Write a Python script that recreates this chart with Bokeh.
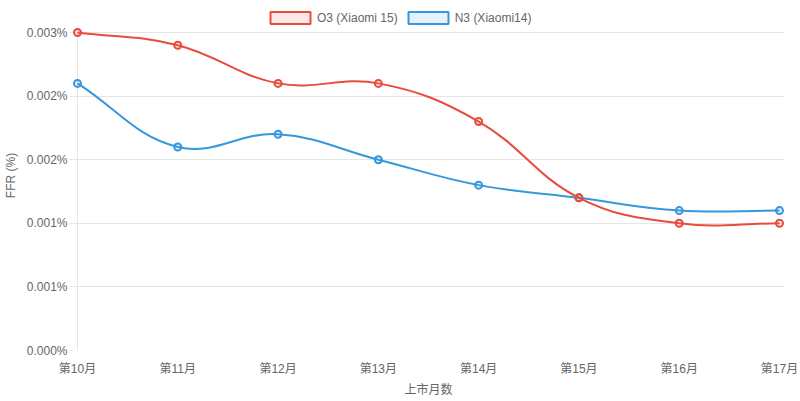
import math
from bokeh.plotting import figure
from bokeh.models import (FixedTicker, CustomJSTickFormatter, Legend, LegendItem,
                          ColumnDataSource, Range1d)
from bokeh.embed import file_html
from bokeh.resources import INLINE

# ---------------- data ----------------
MONTHS = ["第10月", "第11月", "第12月", "第13月", "第14月", "第15月", "第16月", "第17月"]
O3_VALUES = [0.0025, 0.0024, 0.0021, 0.0021, 0.0018, 0.0012, 0.0010, 0.0010]
N3_VALUES = [0.0021, 0.0016, 0.0017, 0.0015, 0.0013, 0.0012, 0.0011, 0.0011]
SERIES_NAMES = ["O3 (Xiaomi 15)", "N3 (Xiaomi14)"]
Y_TICKS = [0.0, 0.0005, 0.001, 0.0015, 0.002, 0.0025]
Y_TICK_LABELS = ["0.000%", "0.001%", "0.001%", "0.002%", "0.002%", "0.003%"]
Y_TITLE = "FFR (%)"
X_TITLE = "上市月数"

# ---------------- style ----------------
RED = "#e74c3c"
BLUE = "#3498db"
GRID = "#e5e5e5"
TEXT = "#666666"
FONT = "Liberation Sans, Noto Sans CJK SC"

W, H = 800, 401
FRAME_W_PX = 702.0   # pixel span between first and last category
FRAME_H_PX = 318.0   # pixel span of y 0..max tick
TOP_PX = 32.0        # room above the top tick (legend lives there)
PAD = 5.0            # pixel padding so edge markers are not clipped

n = len(MONTHS)
xs = list(range(n))
x_max = n - 1
y_max = Y_TICKS[-1]
px_x = FRAME_W_PX / x_max
px_y = FRAME_H_PX / y_max


def spline(vals, tension=0.4):
    """Chart.js-style cubic bezier control points computed in pixel space."""
    pts = [(i * px_x, v * px_y) for i, v in enumerate(vals)]
    cps = []
    for i, cur in enumerate(pts):
        prev = pts[i - 1] if i > 0 else cur
        nxt = pts[i + 1] if i < len(pts) - 1 else cur
        d01 = math.hypot(cur[0] - prev[0], cur[1] - prev[1])
        d12 = math.hypot(nxt[0] - cur[0], nxt[1] - cur[1])
        tot = d01 + d12
        s01 = d01 / tot if tot else 0.0
        s12 = d12 / tot if tot else 0.0
        fa, fb = tension * s01, tension * s12
        pcp = (cur[0] - fa * (nxt[0] - prev[0]), cur[1] - fa * (nxt[1] - prev[1]))
        ncp = (cur[0] + fb * (nxt[0] - prev[0]), cur[1] + fb * (nxt[1] - prev[1]))
        pcp = (min(max(pcp[0], 0), FRAME_W_PX), min(max(pcp[1], 0), FRAME_H_PX))
        ncp = (min(max(ncp[0], 0), FRAME_W_PX), min(max(ncp[1], 0), FRAME_H_PX))
        cps.append((pcp, ncp))
    d = dict(x0=[], y0=[], x1=[], y1=[], cx0=[], cy0=[], cx1=[], cy1=[])
    for i in range(len(pts) - 1):
        d["x0"].append(pts[i][0] / px_x); d["y0"].append(pts[i][1] / px_y)
        d["x1"].append(pts[i + 1][0] / px_x); d["y1"].append(pts[i + 1][1] / px_y)
        d["cx0"].append(cps[i][1][0] / px_x); d["cy0"].append(cps[i][1][1] / px_y)
        d["cx1"].append(cps[i + 1][0][0] / px_x); d["cy1"].append(cps[i + 1][0][1] / px_y)
    return ColumnDataSource(d)


p = figure(width=W, height=H, output_backend="svg", toolbar_location=None,
           x_range=Range1d(-PAD / px_x, x_max + PAD / px_x),
           y_range=Range1d(0, y_max + TOP_PX / px_y),
           min_border_left=72, min_border_right=16, min_border_top=0, min_border_bottom=51)
p.outline_line_color = None
p.background_fill_color = "white"
p.border_fill_color = "white"

# grids
p.xgrid.grid_line_color = None
p.ygrid.ticker = FixedTicker(ticks=Y_TICKS)
p.ygrid.grid_line_color = GRID

# left border line of the chart area (from the first category, over the tick span)
p.segment(x0=[xs[0]], y0=[Y_TICKS[0]], x1=[xs[0]], y1=[Y_TICKS[-1]],
          line_color=GRID, line_width=1)

# axes
p.xaxis.ticker = FixedTicker(ticks=xs)
p.xaxis.formatter = CustomJSTickFormatter(args=dict(month_labels=MONTHS),
                                          code="const i = Math.round(tick); return month_labels[i] ?? '';")
p.yaxis.ticker = FixedTicker(ticks=Y_TICKS)
p.yaxis.formatter = CustomJSTickFormatter(args=dict(tvals=Y_TICKS, tlabels=Y_TICK_LABELS), code="""
const i = tvals.findIndex(t => Math.abs(t - tick) < 1e-12);
return i >= 0 ? tlabels[i] : '';
""")
for ax in (p.xaxis[0], p.yaxis[0]):
    ax.axis_line_color = None
    ax.minor_tick_line_color = None
    ax.major_label_text_font = FONT
    ax.major_label_text_font_size = "12px"
    ax.major_label_text_color = TEXT
    ax.axis_label_text_font = FONT
    ax.axis_label_text_font_size = "12px"
    ax.axis_label_text_color = TEXT
    ax.axis_label_text_font_style = "normal"

p.xaxis.major_tick_line_color = None
p.xaxis.major_tick_out = 0
p.xaxis.major_tick_in = 0
p.xaxis.major_label_standoff = 11
p.xaxis.axis_label = X_TITLE
p.xaxis.axis_label_standoff = 4

p.yaxis.major_tick_line_color = GRID
p.yaxis.major_tick_out = 3
p.yaxis.major_tick_in = 0
p.yaxis.major_label_standoff = 2
p.yaxis.axis_label = Y_TITLE
p.yaxis.axis_label_standoff = 6

# series
for vals, color in ((N3_VALUES, BLUE), (O3_VALUES, RED)):
    src = spline(vals)
    p.bezier(x0="x0", y0="y0", x1="x1", y1="y1", cx0="cx0", cy0="cy0", cx1="cx1", cy1="cy1",
             source=src, line_color=color, line_width=2)
    p.scatter(xs, vals, size=7, line_color=color, line_width=2,
              fill_color=color, fill_alpha=0.12)

# legend swatches (box style, like the original)
items = []
for name, color in zip(SERIES_NAMES, (RED, BLUE)):
    r = p.rect(x=[float("nan")], y=[float("nan")], width=1, height=1,
               fill_color=color, fill_alpha=0.12, line_color=color, line_width=2)
    items.append(LegendItem(label=name, renderers=[r]))

legend = Legend(items=items, orientation="horizontal", location=(193, 325),
                glyph_width=50, glyph_height=15, label_height=15, label_standoff=2,
                spacing=5, padding=0, margin=0,
                label_text_font=FONT, label_text_font_size="12px",
                label_text_color=TEXT, border_line_color=None, background_fill_alpha=0)
p.add_layout(legend)

open("out.html", "w").write(file_html(p, INLINE))
